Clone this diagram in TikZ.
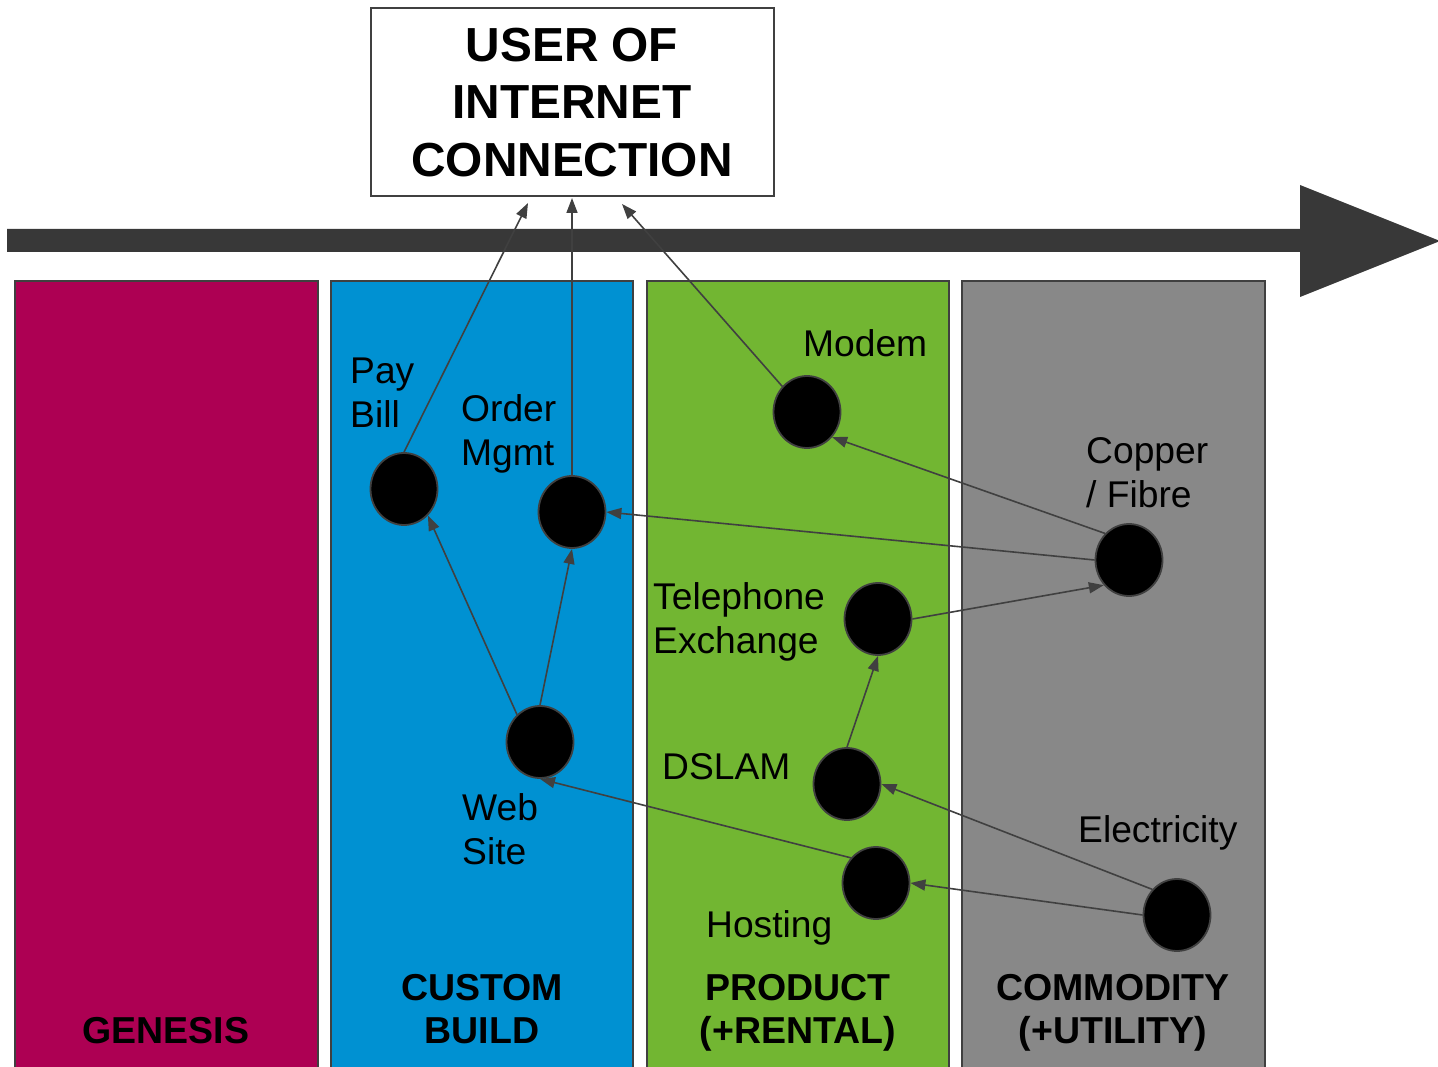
\documentclass[tikz,border=0pt]{standalone}
\usepackage{fontspec}
\setmainfont{Liberation Sans}
\usetikzlibrary{shapes.geometric,arrows.meta}
\definecolor{genesisc}{HTML}{AD0053}
\definecolor{customc}{HTML}{0091D2}
\definecolor{productc}{HTML}{72B632}
\definecolor{commodc}{HTML}{888888}
\definecolor{edgec}{HTML}{404040}
\definecolor{bigarrc}{HTML}{383838}
\tikzset{
  column/.style={draw=edgec, line width=1.3pt},
  dot/.style={shape=ellipse, minimum width=67pt, minimum height=72pt, inner sep=0pt, fill=black, draw=edgec, line width=1.8pt},
  lbl/.style={anchor=base west, align=left, inner sep=0pt, font=\fontsize{37.2}{44}\selectfont},
  collbl/.style={anchor=base, align=center, inner sep=0pt, font=\fontsize{37.5}{43}\selectfont\bfseries},
  toptxt/.style={anchor=base, inner sep=0pt, font=\fontsize{47.8}{57}\selectfont\bfseries},
  conn/.style={draw=edgec, line width=1.6pt, -{Triangle[length=15pt,width=11pt]}},
}
\begin{document}
\begin{tikzpicture}[x=1pt,y=-1pt]
\useasboundingbox (0,0) rectangle (1438,1067);
% columns
\path[column, fill=genesisc] (15,281) rectangle (318,1080);
\path[column, fill=customc] (331,281) rectangle (633,1080);
\path[column, fill=productc] (647,281) rectangle (949,1080);
\path[column, fill=commodc] (962,281) rectangle (1265,1080);
% big arrow
\fill[bigarrc] (7,229) -- (1300,229) -- (1300,185) -- (1440,241) -- (1300,297) -- (1300,252) -- (7,252) -- cycle;
% user box
\node[draw=edgec, line width=1.3pt, fill=white, minimum width=403pt, minimum height=188pt, inner sep=0pt] (user) at (572.5,102) {};
\node[toptxt] (t1) at (572,62) {USER OF};
\node[toptxt] (t2) at (572,119) {INTERNET};
\node[toptxt] (t3) at (572,177) {CONNECTION};
% arrow ends at box
\coordinate (u1) at (528,203);
\coordinate (u2) at (572,198);
\coordinate (u3) at (622,204);
% dots
\node[dot] (paybill) at (404,489) {};
\node[dot] (order) at (572,512) {};
\node[dot] (modem) at (807,412) {};
\node[dot] (copper) at (1129,560) {};
\node[dot] (tele) at (878,619) {};
\node[dot] (dslam) at (847,784) {};
\node[dot] (web) at (540,742) {};
\node[dot] (hosting) at (876,883) {};
\node[dot] (elec) at (1177,915) {};
% labels (base = baseline of last line)
\node[lbl] (lpay) at (350,427) {Pay\\Bill};
\node[lbl] (lorder) at (461,465) {Order\\Mgmt};
\node[lbl] (lmodem) at (803,356) {Modem};
\node[lbl] (lcopper) at (1086,507) {Copper\\/ Fibre};
\node[lbl] (ltele) at (653,653) {Telephone\\Exchange};
\node[lbl] (ldslam) at (662,779) {DSLAM};
\node[lbl] (lweb) at (462,864) {Web\\Site};
\node[lbl] (lelec) at (1078,842) {Electricity};
\node[lbl] (lhost) at (706,937) {Hosting};
% column labels
\node[collbl] (cgen) at (166,1043) {GENESIS};
\node[collbl] (ccus) at (482,1043) {CUSTOM\\BUILD};
\node[collbl] (cpro) at (798,1043) {PRODUCT\\(+RENTAL)};
\node[collbl] (ccom) at (1113,1043) {COMMODITY\\(+UTILITY)};
% connectors
\draw[conn] (paybill.north) -- (u1);
\draw[conn] (order.north) -- (u2);
\draw[conn] (modem.134) -- (u3);
\draw[conn] (copper.132) -- (modem.-45);
\draw[conn] (copper.west) -- (order.east);
\draw[conn] (tele.east) -- (copper.-135);
\draw[conn] (dslam.north) -- (tele.south);
\draw[conn] (web.130) -- (paybill.-48);
\draw[conn] (web.north) -- (order.south);
\draw[conn] (elec.134) -- (dslam.east);
\draw[conn] (elec.west) -- (hosting.east);
\draw[conn] (hosting.135) -- (web.south);
\end{tikzpicture}
\end{document}
